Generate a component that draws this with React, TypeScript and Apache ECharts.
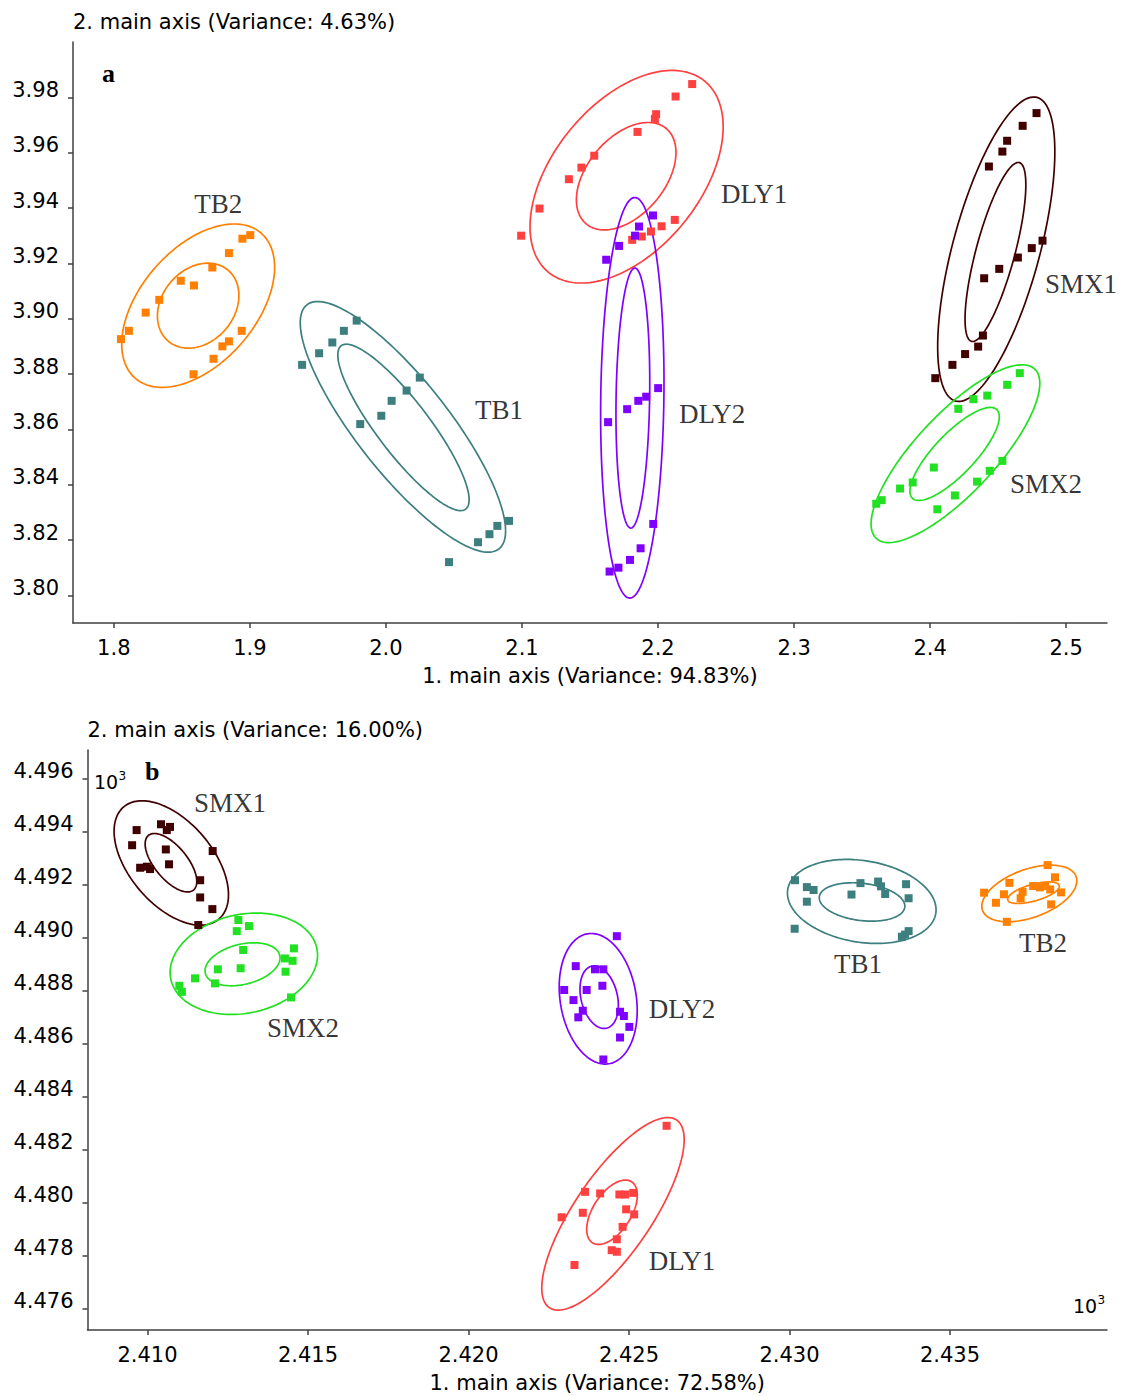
import React, { useEffect, useRef } from "react";
import * as echarts from "echarts";

// ---------- Panel a data ----------
const xTicksA = [1.8, 1.9, 2.0, 2.1, 2.2, 2.3, 2.4, 2.5];
const yTicksA = [3.8, 3.82, 3.84, 3.86, 3.88, 3.9, 3.92, 3.94, 3.96, 3.98];

const aTB2 = [[1.9003,3.9302],[1.8945,3.9289],[1.8846,3.9237],[1.8724,3.9185],[1.8492,3.9137],[1.8589,3.9120],[1.8334,3.9068],[1.8234,3.9022],[1.8111,3.8956],[1.8053,3.8926],[1.8940,3.8956],[1.8846,3.8918],[1.8798,3.8900],[1.8733,3.8855],[1.8586,3.8799]];
const aTB1 = [[1.9384,3.8833],[1.9509,3.8875],[1.9606,3.8914],[1.9691,3.8956],[1.9785,3.8993],[2.0249,3.8787],[2.0152,3.8740],[2.0042,3.8703],[1.9966,3.8649],[1.9811,3.8619],[2.0905,3.8269],[2.0819,3.8251],[2.0761,3.8221],[2.0677,3.8192],[2.0464,3.8120]];
const aDLY1 = [[2.2251,3.9848],[2.2129,3.9803],[2.1986,3.9739],[2.1977,3.9722],[2.1849,3.9675],[2.1531,3.9589],[2.1437,3.9546],[2.1345,3.9504],[2.1129,3.9398],[2.0994,3.9300],[2.2123,3.9357],[2.2026,3.9334],[2.1948,3.9315],[2.1881,3.9297],[2.1810,3.9285]];
const aDLY2 = [[2.1963,3.9373],[2.1860,3.9333],[2.1831,3.9300],[2.1714,3.9263],[2.1619,3.9213],[2.2001,3.8749],[2.1913,3.8718],[2.1855,3.8703],[2.1773,3.8673],[2.1633,3.8626],[2.1965,3.8258],[2.1872,3.8170],[2.1794,3.8128],[2.1709,3.8100],[2.1644,3.8086]];
const aSMX1 = [[2.4782,3.9743],[2.4680,3.9697],[2.4566,3.9643],[2.4531,3.9604],[2.4432,3.9550],[2.4826,3.9282],[2.4747,3.9255],[2.4645,3.9221],[2.4508,3.9180],[2.4397,3.9146],[2.4388,3.8939],[2.4353,3.8899],[2.4257,3.8872],[2.4164,3.8833],[2.4038,3.8785]];
const aSMX2 = [[2.4659,3.8803],[2.4566,3.8761],[2.4420,3.8722],[2.4318,3.8709],[2.4207,3.8674],[2.4531,3.8486],[2.4438,3.8450],[2.4345,3.8411],[2.4182,3.8361],[2.4053,3.8311],[2.4027,3.8462],[2.3872,3.8408],[2.3779,3.8386],[2.3644,3.8344],[2.3604,3.8331]];

// ellipses: [centerX, centerY, halfWidthX, halfHeightY, correlation]
const aEllTB2 = [[1.8620,3.9047,0.0562,0.02953,0.47],[1.8620,3.9047,0.02994,0.01536,0.24]];
const aEllTB1 = [[2.0125,3.8609,0.07546,0.0453,-0.83],[2.0129,3.8607,0.04827,0.03007,-0.87]];
const aEllDLY1 = [[2.1769,3.9513,0.07098,0.03842,0.47],[2.1766,3.9515,0.03659,0.01941,0.44]];
const aEllDLY2 = [[2.1811,3.8714,0.02329,0.0724,0.08],[2.1815,3.8713,0.01242,0.047,0.12]];
const aEllSMX1 = [[2.4486,3.9251,0.04306,0.05502,0.64],[2.4480,3.9241,0.02234,0.03235,0.75]];
const aEllSMX2 = [[2.4186,3.8512,0.06201,0.03213,0.79],[2.4180,3.8511,0.03284,0.01681,0.80]];

const aLabels = [
  { name: "TB2", value: [1.8768, 3.9415] },
  { name: "TB1", value: [2.0832, 3.867] },
  { name: "DLY1", value: [2.2706, 3.9451] },
  { name: "DLY2", value: [2.2398, 3.8656] },
  { name: "SMX1", value: [2.5109, 3.9126] },
  { name: "SMX2", value: [2.4852, 3.8403] },
];

// ---------- Panel b data (x10^3) ----------
const xTicksB = [2.41, 2.415, 2.42, 2.425, 2.43, 2.435];
const yTicksB = [4.476, 4.478, 4.48, 4.482, 4.484, 4.486, 4.488, 4.49, 4.492, 4.494, 4.496];

const bSMX1 = [[2.40966,4.49405],[2.40952,4.49348],[2.41042,4.49427],[2.41070,4.49417],[2.41060,4.49405],[2.41057,4.49332],[2.41067,4.49276],[2.40977,4.49263],[2.40998,4.49267],[2.41008,4.49258],[2.41203,4.49326],[2.41164,4.49216],[2.41164,4.49151],[2.41202,4.49107],[2.41158,4.49047]];
const bSMX2 = [[2.41283,4.49066],[2.41316,4.49043],[2.41278,4.49024],[2.41298,4.48953],[2.41456,4.48959],[2.41428,4.48921],[2.41452,4.48912],[2.41290,4.48884],[2.41219,4.48880],[2.41430,4.48871],[2.41148,4.48846],[2.41210,4.48827],[2.41099,4.48818],[2.41107,4.48795],[2.41447,4.48774]];
const bDLY2 = [[2.42462,4.49005],[2.42334,4.48892],[2.42394,4.48880],[2.42420,4.48880],[2.42417,4.48818],[2.42298,4.48802],[2.42368,4.48802],[2.42327,4.48764],[2.42356,4.48724],[2.42342,4.48699],[2.42472,4.48720],[2.42484,4.48704],[2.42501,4.48663],[2.42472,4.48623],[2.42420,4.48540]];
const bDLY1 = [[2.42617,4.48290],[2.42363,4.48041],[2.42410,4.48035],[2.42470,4.48031],[2.42488,4.48031],[2.42513,4.48037],[2.42491,4.47975],[2.42516,4.47956],[2.42356,4.47962],[2.42290,4.47945],[2.42480,4.47909],[2.42462,4.47862],[2.42446,4.47821],[2.42462,4.47815],[2.42330,4.47765]];
const bTB1 = [[2.43017,4.49216],[2.43054,4.49190],[2.43075,4.49179],[2.43054,4.49135],[2.43016,4.49033],[2.43193,4.49162],[2.43221,4.49205],[2.43276,4.49211],[2.43285,4.49193],[2.43298,4.49164],[2.43363,4.49201],[2.43371,4.49148],[2.43360,4.49011],[2.43371,4.49024],[2.43350,4.49003]];
const bTB2 = [[2.43804,4.49273],[2.43827,4.49227],[2.43685,4.49206],[2.43759,4.49194],[2.43780,4.49189],[2.43796,4.49194],[2.43812,4.49181],[2.43606,4.49169],[2.43668,4.49163],[2.43846,4.49170],[2.43726,4.49172],[2.43720,4.49148],[2.43643,4.49131],[2.43815,4.49125],[2.43677,4.49059]];

const bEllSMX1 = [[2.41074,4.49281,0.001782,0.002345,-0.51],[2.41073,4.49282,0.000804,0.001101,-0.64]];
const bEllSMX2 = [[2.41300,4.48901,0.002296,0.001912,0.17],[2.41296,4.48899,0.001168,0.000811,0.30]];
const bEllDLY2 = [[2.42404,4.48769,0.001215,0.002462,-0.18],[2.42407,4.48775,0.000598,0.00118,-0.26]];
const bEllDLY1 = [[2.42450,4.47958,0.002218,0.003631,0.77],[2.42447,4.47964,0.000788,0.001214,0.53]];
const bEllTB1 = [[2.43225,4.49136,0.002315,0.001584,-0.20],[2.43226,4.49134,0.001333,0.000724,-0.22]];
const bEllTB2 = [[2.43747,4.49166,0.00148,0.001067,0.45],[2.43760,4.49169,0.000804,0.000407,0.60]];

const bLabels = [
  { name: "SMX1", value: [2.41257, 4.49507] },
  { name: "SMX2", value: [2.41484, 4.48658] },
  { name: "DLY2", value: [2.42665, 4.4873] },
  { name: "DLY1", value: [2.42665, 4.4778] },
  { name: "TB1", value: [2.43213, 4.489] },
  { name: "TB2", value: [2.4379, 4.48979] },
];

const COLORS: Record<string, string> = {
  TB2: "#FF8000",
  TB1: "#3D7F7F",
  DLY1: "#FF4040",
  DLY2: "#8000FF",
  SMX1: "#400000",
  SMX2: "#22E022",
};

const SANS = "DejaVu Sans";
const SERIF = "Liberation Serif";
const AXIS_COLOR = "#404040";

function ellipseSeries(data: number[][], color: string, grid: number) {
  return {
    type: "custom",
    xAxisIndex: grid,
    yAxisIndex: grid,
    silent: true,
    z: 2,
    encode: { x: 0, y: 1 },
    data,
    renderItem: (params: any, api: any) => {
      const cx = api.value(0), cy = api.value(1), w = api.value(2), h = api.value(3), r = api.value(4);
      const s = Math.sqrt(1 - r * r);
      const pts: number[][] = [];
      const SEG = 160;
      for (let i = 0; i <= SEG; i++) {
        const t = (i / SEG) * Math.PI * 2;
        pts.push(api.coord([cx + w * Math.cos(t), cy + h * (r * Math.cos(t) + s * Math.sin(t))]));
      }
      return {
        type: "polyline",
        shape: { points: pts },
        style: { fill: null, stroke: color, lineWidth: 1.7 },
      };
    },
  };
}

function pointSeries(data: number[][], color: string, grid: number) {
  return {
    type: "scatter",
    xAxisIndex: grid,
    yAxisIndex: grid,
    symbol: "rect",
    symbolSize: 8,
    z: 3,
    itemStyle: { color, opacity: 1 },
    data,
  };
}

function labelSeries(data: any[], grid: number) {
  return {
    type: "scatter",
    xAxisIndex: grid,
    yAxisIndex: grid,
    symbolSize: 1,
    silent: true,
    z: 4,
    itemStyle: { color: "rgba(0,0,0,0)" },
    label: {
      show: true,
      position: "inside",
      formatter: "{b}",
      fontFamily: SERIF,
      fontSize: 27,
      color: "#000",
      align: "center",
      verticalAlign: "middle",
    },
    data,
  };
}

function xAxisCfg(grid: number, min: number, max: number, ticks: number[], digits: number, name: string) {
  return {
    gridIndex: grid,
    type: "value",
    min,
    max,
    name,
    nameLocation: "middle",
    nameGap: 53,
    nameTextStyle: { fontFamily: SANS, fontSize: 21, color: "#000", verticalAlign: "middle" },
    axisLine: { show: true, onZero: false, lineStyle: { color: AXIS_COLOR, width: 1.5 } },
    axisTick: { show: true, length: 5, customValues: ticks, lineStyle: { color: AXIS_COLOR, width: 1.5 } },
    axisLabel: {
      customValues: ticks,
      formatter: (v: number) => v.toFixed(digits),
      margin: 25,
      verticalAlign: "middle",
      fontFamily: SANS,
      fontSize: 21,
      color: "#000",
    },
    splitLine: { show: false },
  };
}

function yAxisCfg(grid: number, min: number, max: number, ticks: number[], digits: number, name: string) {
  return {
    gridIndex: grid,
    type: "value",
    min,
    max,
    name,
    nameLocation: "end",
    nameGap: 20,
    nameTextStyle: { fontFamily: SANS, fontSize: 21, color: "#000", align: "left", verticalAlign: "middle" },
    axisLine: { show: true, onZero: false, lineStyle: { color: AXIS_COLOR, width: 1.5 } },
    axisTick: { show: true, length: 5, customValues: ticks, lineStyle: { color: AXIS_COLOR, width: 1.5 } },
    axisLabel: {
      customValues: ticks,
      formatter: (v: number) => v.toFixed(digits),
      margin: 14,
      verticalAlign: "bottom",
      lineHeight: 15,
      fontFamily: SANS,
      fontSize: 21,
      color: "#000",
    },
    splitLine: { show: false },
  };
}

export default function App() {
  const ref = useRef<HTMLDivElement>(null);

  useEffect(() => {
    document.body.style.margin = "0";
    if (!ref.current) return;
    const chart = echarts.init(ref.current, undefined, { renderer: "svg" });

    const series: any[] = [
      ellipseSeries(aEllTB2, COLORS.TB2, 0),
      ellipseSeries(aEllTB1, COLORS.TB1, 0),
      ellipseSeries(aEllDLY1, COLORS.DLY1, 0),
      ellipseSeries(aEllDLY2, COLORS.DLY2, 0),
      ellipseSeries(aEllSMX1, COLORS.SMX1, 0),
      ellipseSeries(aEllSMX2, COLORS.SMX2, 0),
      pointSeries(aTB2, COLORS.TB2, 0),
      pointSeries(aTB1, COLORS.TB1, 0),
      pointSeries(aDLY1, COLORS.DLY1, 0),
      pointSeries(aDLY2, COLORS.DLY2, 0),
      pointSeries(aSMX1, COLORS.SMX1, 0),
      pointSeries(aSMX2, COLORS.SMX2, 0),
      labelSeries(aLabels, 0),
      ellipseSeries(bEllSMX1, COLORS.SMX1, 1),
      ellipseSeries(bEllSMX2, COLORS.SMX2, 1),
      ellipseSeries(bEllDLY2, COLORS.DLY2, 1),
      ellipseSeries(bEllDLY1, COLORS.DLY1, 1),
      ellipseSeries(bEllTB1, COLORS.TB1, 1),
      ellipseSeries(bEllTB2, COLORS.TB2, 1),
      pointSeries(bSMX1, COLORS.SMX1, 1),
      pointSeries(bSMX2, COLORS.SMX2, 1),
      pointSeries(bDLY2, COLORS.DLY2, 1),
      pointSeries(bDLY1, COLORS.DLY1, 1),
      pointSeries(bTB1, COLORS.TB1, 1),
      pointSeries(bTB2, COLORS.TB2, 1),
      labelSeries(bLabels, 1),
    ];

    chart.setOption({
      animation: false,
      backgroundColor: "#fff",
      grid: [
        { left: 73, top: 42, width: 1034, height: 581 },
        { left: 87.5, top: 750, width: 1019.5, height: 580 },
      ],
      xAxis: [
        xAxisCfg(0, 1.77, 2.53, xTicksA, 1, "1. main axis (Variance: 94.83%)"),
        xAxisCfg(1, 2.40813, 2.43989, xTicksB, 3, "1. main axis (Variance: 72.58%)"),
      ],
      yAxis: [
        yAxisCfg(0, 3.79, 4.0, yTicksA, 2, "2. main axis (Variance: 4.63%)"),
        yAxisCfg(1, 4.4752, 4.49707, yTicksB, 3, "2. main axis (Variance: 16.00%)"),
      ],
      graphic: [
        { type: "text", left: 102, top: 60, style: { text: "a", font: `bold 26px "${SERIF}"`, fill: "#000" } },
        { type: "text", left: 145, top: 758, style: { text: "b", font: `bold 26px "${SERIF}"`, fill: "#000" } },
        { type: "text", left: 94, top: 772, style: { text: "10", font: `19px "${SANS}"`, fill: "#000" } },
        { type: "text", left: 118.5, top: 770, style: { text: "3", font: `12px "${SANS}"`, fill: "#000" } },
        { type: "text", left: 1073, top: 1296, style: { text: "10", font: `19px "${SANS}"`, fill: "#000" } },
        { type: "text", left: 1097.5, top: 1294, style: { text: "3", font: `12px "${SANS}"`, fill: "#000" } },
      ],
      series,
    });

    return () => {
      chart.dispose();
    };
  }, []);

  return <div ref={ref} style={{ width: 1123, height: 1396 }} />;
}
